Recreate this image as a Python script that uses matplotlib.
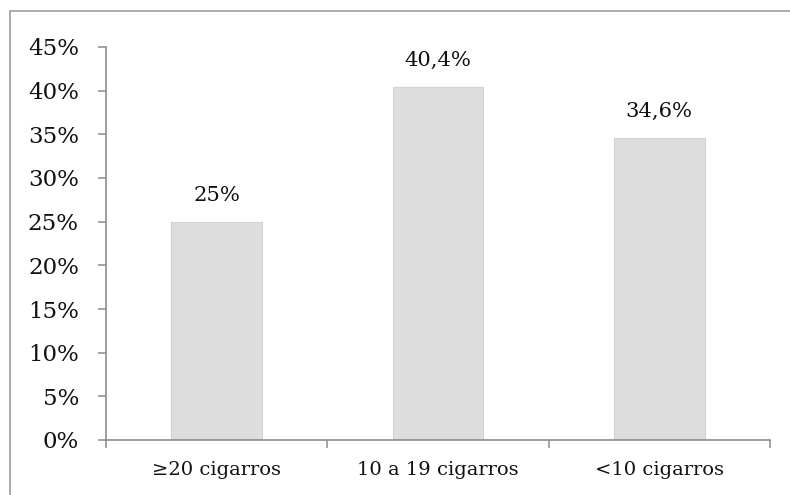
import matplotlib
matplotlib.use("Agg")
import matplotlib.pyplot as plt
from matplotlib.patches import Rectangle
from matplotlib.ticker import FuncFormatter, FixedLocator

categories = ["≥20 cigarros", "10 a 19 cigarros", "<10 cigarros"]
values = [25.0, 40.4, 34.6]
value_labels = ["25%", "40,4%", "34,6%"]
yticks = [0, 5, 10, 15, 20, 25, 30, 35, 40, 45]

plt.rcParams["font.family"] = ["DejaVu Serif"]

W, H = 790, 495
fig = plt.figure(figsize=(W / 100, H / 100), dpi=100)
fig.patch.set_facecolor("white")

# chart-area frame (runs off the right and bottom edges)
fig.add_artist(Rectangle((10 / W, -0.1), 1.1, 1 - 11 / H + 0.1,
                         transform=fig.transFigure, fill=False,
                         edgecolor="#a6a6a6", linewidth=1.3))

ax = fig.add_axes([106 / W, 1 - 440 / H, (770 - 106) / W, (440 - 47) / H])
x = list(range(len(categories)))
ax.bar(x, values, width=0.41, color="#dddddd", edgecolor="#d2d2d2",
       linewidth=0.8, zorder=2)

for xi, v, lab in zip(x, values, value_labels):
    ax.annotate(lab, (xi, v), xytext=(0, 19), textcoords="offset points",
                ha="center", va="center", fontsize=15.2, color="#111111")

ax.set_xlim(-0.5, len(categories) - 0.5)
ax.set_ylim(0, 45)
ax.set_yticks(yticks)
ax.yaxis.set_major_formatter(FuncFormatter(lambda v, p: f"{v:.0f}%"))
ax.set_xticks(x)
ax.set_xticklabels(categories)
ax.xaxis.set_minor_locator(FixedLocator([i - 0.5 for i in range(len(categories) + 1)]))

for s in ["top", "right"]:
    ax.spines[s].set_visible(False)
for s in ["left", "bottom"]:
    ax.spines[s].set_color("#8c8c8c")
    ax.spines[s].set_linewidth(1.2)

ax.tick_params(axis="y", length=6, width=1.1, color="#8c8c8c", pad=13.5,
               labelsize=16.5, labelcolor="#111111")
ax.tick_params(axis="x", which="major", length=0, pad=15,
               labelsize=14, labelcolor="#111111")
ax.tick_params(axis="x", which="minor", length=6, width=1.1, color="#8c8c8c")

fig.savefig("out.png", dpi=100, facecolor="white")
